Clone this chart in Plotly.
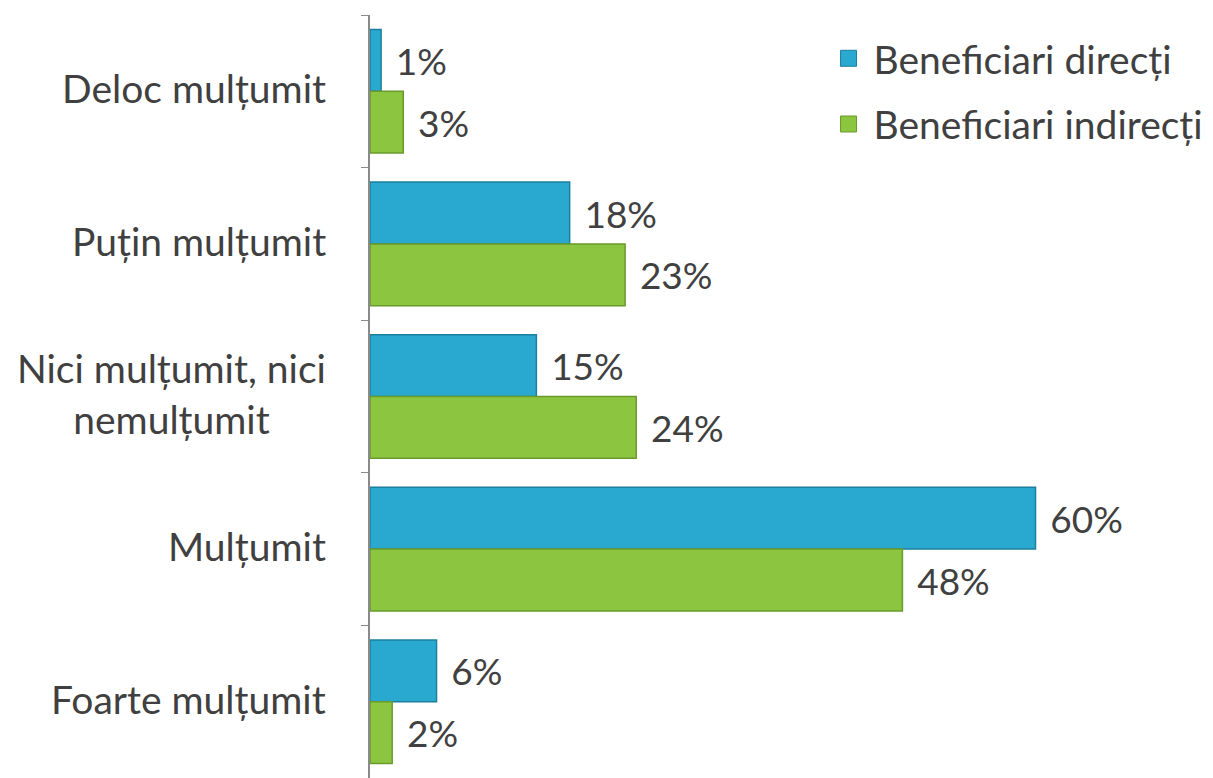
import plotly.graph_objects as go

categories = ["Deloc mulțumit", "Puțin mulțumit", "Nici mulțumit, nici<br>nemulțumit", "Mulțumit", "Foarte mulțumit"]
series_names = ["Beneficiari direcți", "Beneficiari indirecți"]
direct_values = [1, 18, 15, 60, 6]
indirect_values = [3, 23, 24, 48, 2]

FONT = "Lato"
TXT = "#404040"
SIZE = 37
LABEL_SIZE = 39
COLORS = ["#29a9cf", "#8cc53f"]
EDGES = ["#1d7f9e", "#6a9a2c"]

fig = go.Figure()
for i, vals in enumerate([direct_values, indirect_values]):
    fig.add_trace(go.Bar(
        y=categories, x=vals, orientation="h", name=series_names[i],
        showlegend=False,
        marker=dict(color=COLORS[i], line=dict(color=EDGES[i], width=1.5)),
        text=vals, texttemplate=" \u200a%{x}%", textposition="outside",
        textfont=dict(family=FONT, size=SIZE, color=TXT), cliponaxis=False,
    ))
# legend entries with larger square swatches
for i in range(2):
    fig.add_trace(go.Scatter(
        x=[None], y=[None], mode="markers", name=series_names[i],
        legendgroup=f"g{i}",
        marker=dict(symbol="square", size=19, color=COLORS[i],
                    line=dict(color=EDGES[i], width=1)),
    ))

for c in categories:
    fig.add_annotation(
        x=0, xref="paper", y=c, yref="y", text=c, showarrow=False,
        xanchor="right", xshift=-42, yshift=3, align="center",
        font=dict(family=FONT, size=LABEL_SIZE, color=TXT),
    )

fig.update_layout(
    width=1205, height=770,
    margin=dict(l=362, r=0, t=7, b=0),
    paper_bgcolor="white", plot_bgcolor="white",
    barmode="group", bargap=0.19, bargroupgap=0,
    showlegend=True,
    legend=dict(
        x=0.538, y=0.985, xref="paper", yref="paper", xanchor="left", yanchor="top",
        font=dict(family=FONT, size=LABEL_SIZE, color=TXT), traceorder="grouped",
        tracegroupgap=12, itemsizing="trace", itemwidth=40,
        bgcolor="rgba(0,0,0,0)",
    ),
)
fig.update_xaxes(range=[0, 76], visible=False, showgrid=False, zeroline=False,
                 automargin=False)
fig.update_yaxes(
    autorange="reversed", showticklabels=False, showline=True, linecolor="#8a8a8a",
    linewidth=1.5, ticks="outside", tickson="boundaries", ticklen=7,
    tickcolor="#8a8a8a", showgrid=False, automargin=False,
)
fig.write_html("out.html")
